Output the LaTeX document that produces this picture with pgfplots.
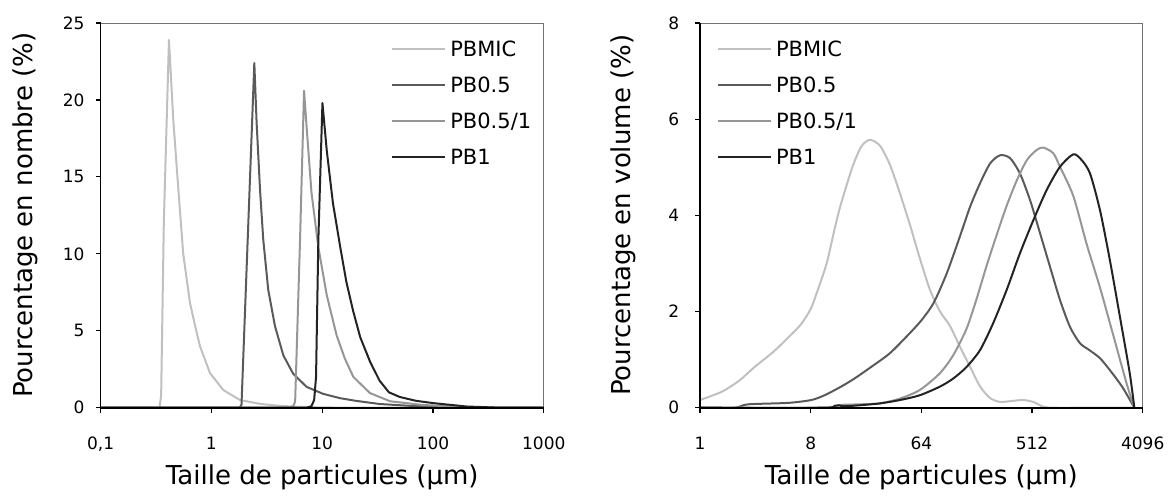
\documentclass[border=0pt]{standalone}
\usepackage{fontspec}
\setmainfont{DejaVu Sans}
\usepackage{pgfplots}
\pgfplotsset{compat=1.18}
\definecolor{cMIC}{RGB}{192,192,192}
\definecolor{cPa}{RGB}{90,90,90}
\definecolor{cPb}{RGB}{150,150,150}
\definecolor{cPc}{RGB}{35,35,35}
\pgfplotsset{
  common/.style={
    scale only axis, height=192.35pt,
    anchor=south west, clip=false,
    axis line style={draw=black!55, line width=0.5pt},
    tick align=outside, xtick pos=bottom, ytick pos=left,
    major tick length=2.5pt,
    tick style={black, line width=0.6pt},
    xminorticks=false, yminorticks=false,
    ticklabel style={font=\fontsize{8.5}{10}\selectfont},
    /pgf/number format/assume math mode=true,
    label style={font=\fontsize{13}{15}\selectfont},
    every axis plot/.append style={line width=1pt, mark=none, line join=round},
    legend style={draw=none, fill=none, font=\fontsize{10.5}{12}\selectfont,
      anchor=north west, row sep=10.3pt, column sep=2pt, inner sep=0pt,
      nodes={inner sep=0pt, text depth=0pt}},
    legend cell align=left,
    legend image code/.code={\draw[#1] (0pt,0pt) -- (26.5pt,0pt); \path (0pt,3.4pt);},
  }
}
\begin{document}
\begin{tikzpicture}
\path[use as bounding box] (0pt,0pt) rectangle (587pt,247.5pt);
% ---------------- left panel ----------------
\begin{axis}[common, at={(50.3pt,43.65pt)}, width=221.6pt,
  xmode=log, xmin=0.1, xmax=1000, ymin=0, ymax=25,
  xtick={0.1,1,10,100,1000}, xticklabels={{0,1},1,10,100,1000},
  ytick={0,5,10,15,20,25},
  xticklabel style={yshift=-8.5pt},
  yticklabel style={xshift=-2.0pt},
  xlabel={Taille de particules (µm)}, ylabel={Pourcentage en nombre (\%)},
  xlabel style={at={(axis description cs:0.5,-0.1814)}, anchor=center},
  ylabel style={at={(axis description cs:-0.1706,0.5)}, anchor=center},
  legend style={at={(axis description cs:0.655,0.955)}},
]
\addplot[cMIC] coordinates {(0.1,0) (0.34,0) (0.352,0.8) (0.372,12) (0.414,23.9) (0.453,18.7) (0.502,14.3) (0.557,10.0) (0.641,6.8) (0.73,5.0) (0.789,4.0) (0.971,2.25) (1.28,1.15) (1.81,0.5) (2.75,0.25) (4,0.13) (6,0.06) (10,0.02) (20,0) (1000,0)};
\addplot[cPa] coordinates {(0.1,0) (1.8,0) (1.87,0.2) (2.44,22.4) (2.56,18.5) (2.75,14.1) (2.94,10.9) (3.26,7.65) (3.75,5.3) (4.46,3.4) (5.48,2.2) (7.24,1.35) (10.2,0.9) (14.5,0.62) (20,0.45) (33,0.24) (66,0.11) (150,0.03) (300,0) (1000,0)};
\addplot[cPb] coordinates {(0.1,0) (5.1,0) (5.48,0.1) (5.7,0.4) (6.31,10.9) (6.86,20.6) (7.24,18.2) (8.0,14.0) (9.2,10.5) (11.0,7.3) (13.5,4.7) (16,3.2) (19.1,2.0) (27,0.95) (41,0.42) (80,0.18) (190,0.04) (500,0) (1000,0)};
\addplot[cPc] coordinates {(0.1,0) (7.2,0) (8.0,0.1) (8.46,0.5) (8.8,2) (9.23,10.9) (10.05,19.8) (11.0,16.7) (12.5,13.3) (14.5,10.5) (16.5,8.2) (19,6.3) (22,4.6) (27,3.0) (33,1.75) (40,1.0) (50,0.7) (70,0.45) (100,0.3) (200,0.08) (400,0) (1000,0)};
\legend{PBMIC,PB0.5,PB0.5/1,PB1}
\draw[black, line width=0.8pt] (rel axis cs:0,1) -- (rel axis cs:0,0) -- (rel axis cs:1,0);
\end{axis}
% ---------------- right panel ----------------
\begin{axis}[common, at={(350pt,43.65pt)}, width=221.35pt,
  xmode=log, log basis x=2, xmin=1, xmax=4096, ymin=0, ymax=8,
  xtick={1,8,64,512,4096}, xticklabels={1,8,64,512,4096},
  ytick={0,2,4,6,8},
  xticklabel style={yshift=-8.5pt},
  yticklabel style={xshift=-4.4pt},
  xlabel={Taille de particules (µm)}, ylabel={Pourcentage en volume (\%)},
  xlabel style={at={(axis description cs:0.5,-0.1814)}, anchor=center},
  ylabel style={at={(axis description cs:-0.1739,0.5)}, anchor=center},
  legend style={at={(axis description cs:0.0375,0.955)}},
  every axis plot/.append style={smooth, tension=0.45},
]
\addplot[cMIC] coordinates {(1,0.16) (1.5,0.33) (2.08,0.56) (2.8,0.85) (4.0,1.17) (5.2,1.45) (6.6,1.72) (8.0,2.05) (9.0,2.4) (10.8,3.0) (12.5,3.7) (14,4.2) (17.5,5.0) (20.7,5.43) (24.3,5.57) (29.4,5.45) (35.5,5.05) (42.9,4.45) (51.7,3.8) (62.3,3.1) (75.3,2.45) (90.9,2.0) (109.6,1.7) (132,1.27) (160,0.85) (193,0.44) (233,0.2) (281,0.12) (350,0.14) (434,0.16) (524,0.12) (633,0.02) (760,0) (1500,0) (3500,0)};
\addplot[cPa] coordinates {(1,0) (1.92,0) (2.46,0.07) (5.22,0.1) (8.1,0.16) (10.4,0.26) (14.2,0.44) (18.3,0.61) (25.0,0.85) (34.2,1.10) (42.9,1.34) (62.3,1.78) (80.2,2.17) (103,2.79) (132,3.56) (160,4.18) (193,4.67) (233,5.08) (281,5.25) (339,5.19) (408,4.87) (493,4.32) (595,3.63) (718,2.93) (866,2.24) (1045,1.68) (1262,1.34) (1500,1.2) (1835,1.03) (2260,0.75) (2810,0.42) (3500,0)};
\addplot[cPb] coordinates {(1,0) (10,0) (12.5,0.02) (13.5,0.05) (14.2,0.06) (20,0.07) (29.4,0.09) (42.9,0.19) (62.3,0.37) (90.9,0.72) (117,1.1) (150,1.65) (180,2.25) (218,2.95) (264,3.6) (318,4.2) (385,4.73) (465,5.15) (559,5.36) (633,5.41) (764,5.29) (866,5.01) (1113,4.4) (1430,3.4) (1835,2.5) (2360,1.5) (3030,0.5) (3500,0)};
\addplot[cPc] coordinates {(1,0) (10,0) (12.5,0.04) (13.5,0.05) (15,0.03) (20,0.05) (29.4,0.09) (42.9,0.16) (62.3,0.26) (90.9,0.44) (117,0.61) (150,0.85) (193,1.20) (246,1.75) (318,2.45) (408,3.21) (525,3.90) (675,4.53) (866,5.01) (1113,5.27) (1300,5.15) (1523,4.87) (1835,4.11) (2210,3.07) (2670,1.89) (3210,0.72) (3500,0)};
\legend{PBMIC,PB0.5,PB0.5/1,PB1}
\draw[black, line width=0.8pt] (rel axis cs:0,1) -- (rel axis cs:0,0) -- (rel axis cs:1,0);
\end{axis}
\end{tikzpicture}
\end{document}
